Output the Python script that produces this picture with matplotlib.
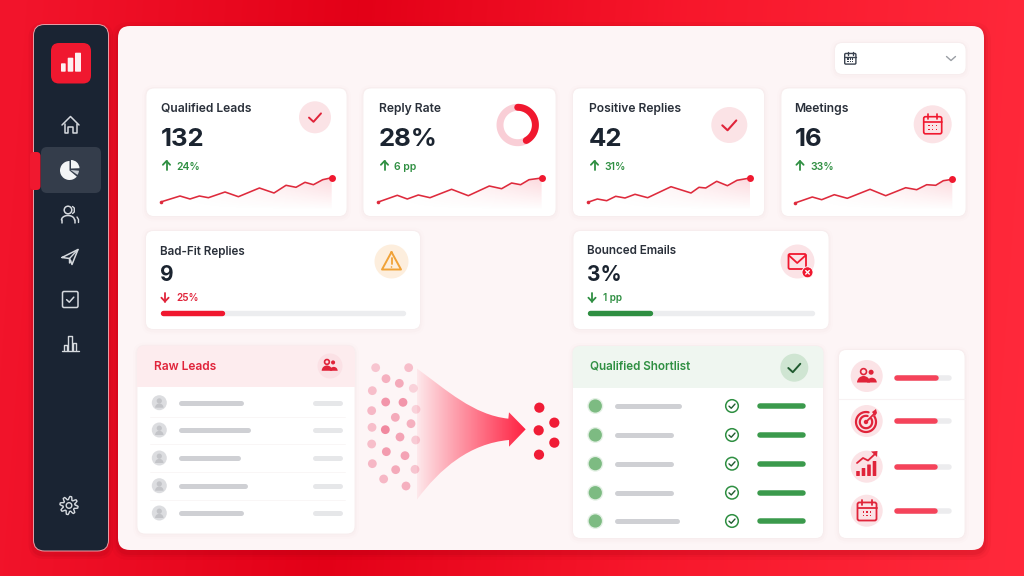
import numpy as np
import matplotlib
matplotlib.use("Agg")
import matplotlib.pyplot as plt
from matplotlib.patches import FancyBboxPatch, Circle, Wedge, Polygon, PathPatch, Rectangle
from matplotlib.path import Path

W, H = 1024, 576
plt.rcParams['font.family'] = ['Inter', 'DejaVu Sans']

# ---------- data ----------
kpi_titles = ["Qualified Leads", "Reply Rate", "Positive Replies", "Meetings"]
kpi_values = ["132", "28%", "42", "16"]
kpi_deltas = ["24%", "6 pp", "31%", "33%"]
spark_x = [
    [0, 19.3, 29.3, 38.7, 47.7, 64.3, 77.7, 98.7, 113.3, 125.3, 135.3, 144.3, 152.7, 162, 171],
    [0, 19, 29, 40, 51.7, 73.3, 90, 111, 123.3, 133.3, 142.3, 150.7, 163.3],
    [0, 9.7, 19, 28, 37.3, 47.3, 60, 83.3, 103.3, 111.3, 118, 129, 139.7, 149.3, 162.3],
    [0, 17.3, 26.7, 39.3, 52.3, 75, 90.7, 110.7, 121.7, 131.7, 140.7, 148.3, 157.3],
]
spark_y = [
    [8, 14, 11, 14, 12.3, 18, 13.3, 22, 17, 24.7, 22.7, 27.7, 25.3, 30.3, 32.3],
    [8, 14.7, 11, 15, 12.3, 20.7, 14.3, 24, 21.3, 27, 25.3, 30.3, 32],
    [7.7, 11, 9.3, 13.7, 12, 15.7, 12.3, 23.3, 17, 22.7, 22, 28.7, 24.3, 29.7, 32],
    [7, 13, 10.3, 15.3, 11.7, 20.7, 14.3, 22.3, 20.3, 25.3, 24.7, 29.3, 30.7],
]
reply_ring_share = 0.42
low_titles = ["Bad-Fit Replies", "Bounced Emails"]
low_values = ["9", "3%"]
low_deltas = ["25%", "1 pp"]
low_progress = [0.265, 0.29]
raw_title = "Raw Leads"
short_title = "Qualified Shortlist"
raw_name_len = [65, 72, 62, 69, 65]
short_name_len = [67, 59, 59, 58.5, 65]
side_progress = [0.77, 0.75, 0.75, 0.76]

# ---------- palette ----------
RED = "#f0182f"; DARK = "#1b2430"; GREEN = "#2f8f42"; SIDE = "#1a2433"
CARD_EDGE = "#f7eced"; PINK = "#fbe3e6"

fig = plt.figure(figsize=(W/100, H/100), dpi=100)
ax = fig.add_axes([0, 0, 1, 1])
ax.set_axis_off()

# ---------- background ----------
stops = [0.0, 0.33, 0.65, 1.0]
rr = [0.95, 0.89, 0.97, 1.00]
gg = [0.08, 0.00, 0.09, 0.16]
bb = [0.17, 0.09, 0.17, 0.23]
yy, xx = np.mgrid[0:H, 0:W]
u = xx/W + 0.04*(yy/H - 0.5)
bg = np.dstack([np.interp(u, stops, rr), np.interp(u, stops, gg), np.interp(u, stops, bb)])
ax.imshow(bg, extent=(0, W, H, 0), aspect='auto', zorder=0)
ax.set_xlim(0, W); ax.set_ylim(H, 0)


def rbox(x0, y0, x1, y1, r=8, fc="white", ec="none", lw=0, z=2, alpha=None):
    p = FancyBboxPatch((x0+r, y0+r), x1-x0-2*r, y1-y0-2*r,
                       boxstyle=f"round,pad={r},rounding_size={r}",
                       fc=fc, ec=ec, lw=lw, zorder=z, alpha=alpha)
    ax.add_patch(p)
    return p


def pill(x0, x1, y, t, col, z=4):
    ax.plot([x0+t/2, x1-t/2], [y, y], color=col, lw=t*0.72, solid_capstyle='round', zorder=z)


def card(x0, y0, x1, y1, r=8, z=2):
    for i, a in zip((4, 2), (0.006, 0.010)):
        rbox(x0-i, y0-i+1, x1+i, y1+i+1, r+i, fc="#a03040", alpha=a, z=z)
    return rbox(x0, y0, x1, y1, r, fc="white", ec=CARD_EDGE, lw=0.6, z=z)


def line(xs, ys, col, lw=1.2, z=6, cap='round'):
    ax.plot(xs, ys, color=col, lw=lw, solid_capstyle=cap, solid_joinstyle='round', zorder=z)


def check(cx, cy, s, col, lw=1.5, z=6):
    line([cx-s, cx-0.25*s, cx+s], [cy+0.05*s, cy+0.75*s, cy-0.65*s], col, lw, z)


def calendar(cx, cy, s, col, lw=1.1, z=6, fill="none"):
    rbox(cx-s, cy-s*0.9, cx+s, cy+s, s*0.2, fc=fill, ec=col, lw=lw, z=z)
    line([cx-s, cx+s], [cy-s*0.35, cy-s*0.35], col, lw, z)
    for dx in (-0.5, 0.5):
        line([cx+dx*s]*2, [cy-s*1.15, cy-s*0.65], col, lw, z)
    for i in (-0.4, 0, 0.4):
        for j in (0.1, 0.5):
            ax.add_patch(Rectangle((cx+i*s-0.7, cy+j*s-0.7), 1.4, 1.4, fc=col, ec='none', zorder=z))


def people(cx, cy, s, col, z=6):
    ax.add_patch(Circle((cx-0.3*s, cy-0.42*s), 0.28*s, fc="none", ec=col, lw=1.2, zorder=z))
    ax.add_patch(Circle((cx+0.42*s, cy-0.36*s), 0.24*s, fc=col, ec='none', zorder=z))
    ax.add_patch(Wedge((cx-0.3*s, cy+0.62*s), 0.62*s, 180, 360, fc=col, ec='none', zorder=z))
    ax.add_patch(Wedge((cx+0.5*s, cy+0.62*s), 0.46*s, 180, 360, fc=col, ec='none', zorder=z-0.1))


def arrow(cx, cy, up, col, s=4.5):
    d = -1 if up else 1
    line([cx, cx], [cy-d*s, cy+d*s], col, 1.3)
    line([cx-s*0.8, cx, cx+s*0.8], [cy+d*s*0.15, cy+d*s, cy+d*s*0.15], col, 1.3)


# ---------- main panel ----------
for i, a in zip((7, 4, 2), (0.05, 0.07, 0.10)):
    rbox(118-i, 26-i+3, 984+i, 550+i+3, 12+i, fc="#900010", alpha=a, z=0.8)
rbox(118, 26, 984, 550, 12, fc="#fdf5f6", z=1)

# ---------- sidebar ----------
for i, a in zip((5, 2.5), (0.07, 0.10)):
    rbox(33.5-i, 24.5-i+3, 108.5+i, 551+i+3, 11+i, fc="#800010", alpha=a, z=0.8)
rbox(33.5, 24.5, 108.5, 551, 11, fc=SIDE, ec="#eaa0a8", lw=0.7, z=2)
rbox(51, 43, 91, 83.5, 8, fc=RED, z=3)
for x0, x1, top in ((61, 65.7, 63.3), (67.7, 73.3, 57.7), (75, 81, 52.7)):
    rbox(x0, top, x1, 71.7, 0.8, fc="#fdeff0", z=4)
rbox(41, 147, 101, 193, 6, fc="#343d4b", z=3)
ax.add_patch(Wedge((33.8, 171), 19, -90, 90, fc=RED, ec='none', zorder=2.9, alpha=0))
rbox(30, 152, 40.5, 190, 4, fc=RED, z=3)
rbox(26, 150, 33.5, 192, 0.5, fc=RED, z=0.9, alpha=0)
ICON = "#d5d9de"
# home
line([62, 70.5, 79], [125, 116.5, 125], ICON, 1.1)
line([64.5, 64.5, 68, 68, 73, 73, 76.5, 76.5], [123.5, 133, 133, 127, 127, 133, 133, 123.5], ICON, 1.1)
# pie
ax.add_patch(Wedge((69.5, 170.5), 9.5, 40, 270, fc="#f3f5f6", ec='none', zorder=5))
ax.add_patch(Wedge((71, 168.5), 8.5, 270, 358, fc="#f3f5f6", ec='none', zorder=5))
ax.add_patch(Wedge((70.5, 170), 8.5, 5, 35, fc="#c8ced4", ec='none', zorder=5))
# users
ax.add_patch(Circle((68, 210), 3.8, fc='none', ec=ICON, lw=1.1, zorder=6))
th = np.linspace(np.pi, 2*np.pi, 30)
line(68+6.5*np.cos(th), 220+4.5*np.sin(th), ICON, 1.1)
line([61.5, 61.5], [220, 223], ICON, 1.1); line([74.5, 74.5], [220, 223], ICON, 1.1)
line([72.5, 74.3, 74.3, 72.5], [206.5, 208, 212, 213.5], ICON, 1.0)
line([77, 78.5, 78.5], [217, 219.5, 222.5], ICON, 1.0)
# plane
line([62, 78, 72, 69.5, 62], [257.5, 249.5, 264.5, 258.5, 257.5], ICON, 1.1)
line([69.5, 78], [258.5, 249.5], ICON, 1.0)
line([69.5, 69.5, 71], [258.5, 263, 261], ICON, 1.0)
# checkbox
rbox(62.5, 291.5, 78, 307.5, 1.5, fc='none', ec=ICON, lw=1.1, z=6)
check(70.2, 299.5, 3.6, ICON, 1.1)
# bar chart
line([62, 79], [350.5, 350.5], ICON, 1.0)
for xa, xb, t in ((63.5, 67, 345), (68, 72, 336), (72.5, 76, 343)):
    line([xa, xa, xb, xb], [350, t, t, 350], ICON, 1.0)
# gear
ang = np.linspace(0, 2*np.pi, 65)
rad = 7.5 + 1.6*np.tanh(4*np.sin(8*ang))
line(69+rad*np.cos(ang), 505.5+rad*np.sin(ang), ICON, 1.0)
ax.add_patch(Circle((69, 505.5), 2.8, fc='none', ec=ICON, lw=1.0, zorder=6))

# ---------- date dropdown ----------
card(834.5, 42.5, 966, 74.5, 8)
calendar(850.3, 58.5, 5.6, "#3b4350", 1.0)
line([946.5, 951, 955.5], [56.5, 60.5, 56.5], "#9a9ea4", 1.0)


# ---------- KPI cards ----------
def gradient_fill(a, xs, ys, base=0):
    n = 60
    gy, gx = np.mgrid[0:n, 0:n]/(n-1.0)
    rgba = np.zeros((n, n, 4))
    rgba[..., :3] = (0.95, 0.25, 0.33)
    rgba[..., 3] = 0.2*gx**1.5*(1-gy)
    im = a.imshow(rgba, extent=(min(xs), max(xs), base, max(ys)), origin='upper',
                  aspect='auto', zorder=1, interpolation='bilinear')
    poly = Polygon(list(zip(xs, ys))+[(xs[-1], base), (xs[0], base)], closed=True,
                   transform=a.transData, fc='none', ec='none')
    a.add_patch(poly)
    im.set_clip_path(poly)


boxes = [(146, 88, 347, 216.5), (363, 88, 556, 216.5), (572.5, 88, 764.5, 216.5), (781, 88, 966, 216.5)]
text_x = [161, 379, 589, 794.5]
spark_x0 = [160.7, 378.3, 587.7, 795]
for i in range(4):
    x0, y0, x1, y1 = boxes[i]
    card(x0, y0, x1, y1)
    tx = text_x[i]
    ax.text(tx, 109, kpi_titles[i], fontsize=8.7, fontweight=600, color="#2a303a", va='center', ha='left', zorder=7)
    ax.text(tx, 140, kpi_values[i], fontsize=18.5, fontweight=700, color=DARK, va='center', ha='left', zorder=7)
    arrow(tx+5.5, 165.5, True, GREEN)
    ax.text(tx+15.5, 166.5, kpi_deltas[i], fontsize=7.5, fontweight=600, color=GREEN, va='center', ha='left', zorder=7)
    sx0 = spark_x0[i]
    sa = fig.add_axes([sx0/W, 1-(210/H), 180/W, 40/H])
    sa.set_axis_off(); sa.patch.set_alpha(0)
    gradient_fill(sa, spark_x[i], spark_y[i])
    sa.plot(spark_x[i], spark_y[i], color="#de2a3c", lw=1.15, zorder=3, solid_joinstyle='round')
    sa.plot(spark_x[i][-1], spark_y[i][-1], 'o', color=RED, ms=5, mec='none', zorder=4, clip_on=False)
    sa.plot(spark_x[i][0], spark_y[i][0], 'o', color="#de2a3c", ms=2.6, mec='none', zorder=4, clip_on=False)
    sa.set_xlim(0, 180); sa.set_ylim(0, 40)

# KPI icons
ax.add_patch(Circle((315, 117.3), 16, fc=PINK, ec='none', zorder=5))
check(315, 117.3, 6, "#e0243a", 1.4)
ang = np.linspace(0, 2*np.pi, 90)
line(517.7+17.7*np.cos(ang), 125+17.7*np.sin(ang), "#f9ced6", 5.0, z=5)
ang = np.radians(-90) + np.linspace(0, 2*np.pi*reply_ring_share, 60)
line(517.7+17.7*np.cos(ang), 125+17.7*np.sin(ang), RED, 5.0, z=6)
ax.add_patch(Circle((729.3, 125), 18, fc=PINK, ec='none', zorder=5))
check(729.3, 125, 7, "#e0243a", 1.5)
ax.add_patch(Circle((932.7, 124.3), 19, fc=PINK, ec='none', zorder=5))
calendar(932.7, 124.8, 9, RED, 1.2)

# ---------- lower KPI cards ----------
low_boxes = [(145.5, 230.5, 420.5, 329.5), (573, 230.5, 829, 329.5)]
low_tx = [160, 587]
low_track = [(160, 406), (587, 815)]
low_cols = [RED, GREEN]
delta_cols = ["#e0243a", GREEN]
for i in range(2):
    x0, y0, x1, y1 = low_boxes[i]
    card(x0, y0, x1, y1)
    tx = low_tx[i]
    ax.text(tx, 251.5, low_titles[i], fontsize=8.4, fontweight=600, color="#2a303a", va='center', ha='left', zorder=7)
    ax.text(tx, 275, low_values[i], fontsize=15, fontweight=700, color=DARK, va='center', ha='left', zorder=7)
    arrow(tx+5, 297, False, delta_cols[i])
    ax.text(tx+16, 298, low_deltas[i], fontsize=7.2, fontweight=600, color=delta_cols[i], va='center', ha='left', zorder=7)
    ta, tb = low_track[i]
    pill(ta, tb, 313, 5.4, "#ecedef")
    pill(ta, ta+(tb-ta)*low_progress[i], 313, 5.4, low_cols[i], z=5)

# warning icon
ax.add_patch(Circle((391.5, 261.5), 17, fc="#fdeedd", ec='none', zorder=5))
line([391.5, 401, 382, 391.5], [252, 269.5, 269.5, 252], "#f0a238", 1.4)
line([391.5, 391.5], [257.5, 264], "#f0a238", 1.3)
ax.add_patch(Circle((391.5, 267), 0.8, fc="#f0a238", ec='none', zorder=6))
# bounced icon
ax.add_patch(Circle((797.5, 261.5), 17, fc=PINK, ec='none', zorder=5))
rbox(788.5, 254, 806, 269, 1.5, fc='none', ec=RED, lw=1.3, z=6)
line([789, 797.2, 805.5], [255.5, 263, 255.5], RED, 1.3)
ax.add_patch(Circle((807.5, 272.3), 5.5, fc=RED, ec='white', lw=0.6, zorder=7))
line([805.7, 809.3], [270.5, 274.1], "white", 1.0, z=8)
line([805.7, 809.3], [274.1, 270.5], "white", 1.0, z=8)

# ---------- raw leads ----------
card(137, 345.5, 355, 534)
rbox(137, 345.5, 355, 387, 8, fc="#fdecee", z=2.5)
ax.add_patch(Rectangle((137.3, 378), 217.4, 9, fc="#fdecee", ec='none', zorder=2.5))
ax.text(154, 366.5, raw_title, fontsize=8.6, fontweight=600, color="#e0243a", va='center', ha='left', zorder=7)
ax.add_patch(Circle((330, 366), 12.5, fc="#fbe1e5", ec='none', zorder=5))
people(329.5, 365.5, 8.5, "#e0243a")
raw_rows = [402.7, 430, 458, 485.7, 513]
for i, y in enumerate(raw_rows):
    ax.add_patch(Circle((159.3, y), 7.5, fc="#dcdde0", ec='none', zorder=4))
    ax.add_patch(Circle((159.3, y-1.8), 2.6, fc="#c3c4c8", ec='none', zorder=5))
    ax.add_patch(Wedge((159.3, y+5), 4.2, 180, 360, fc="#c3c4c8", ec='none', zorder=5))
    pill(178.5, 178.5+raw_name_len[i], y, 5, "#cfd0d4")
    pill(312, 342, y, 5, "#e6e7e9")
    if i < 4:
        line([150, 345], [y+14, y+14], "#f8f5f5", 0.6, z=3)

# dots of the funnel
dot_zx = [737, 836, 768, 808, 727, 850, 767, 819, 725, 858, 796, 843, 726, 766, 810, 857, 725, 769, 825, 727, 797, 855, 761, 828]
dot_zy = [83, 83, 116, 130, 152, 145, 186, 187, 212, 208, 232, 251, 262, 269, 291, 300, 312, 335, 347, 371, 389, 388, 417, 438]
dot_alpha = [.35, .4, .5, .55, .4, .25, .7, .7, .45, .25, .55, .5, .4, .8, .6, .3, .4, .65, .6, .45, .55, .35, .45, .5]
for zx, zy, al in zip(dot_zx, dot_zy, dot_alpha):
    ax.add_patch(Circle((130+zx/3, 340+zy/3), 4.4, fc="#ee6d8a", alpha=al, ec='none', zorder=3))


# funnel arrow
def Z(x, y):
    return (130+x/3, 340+y/3)


verts = [Z(860, 85), Z(950, 150), Z(1030, 225), Z(1135, 236), Z(1137, 217), Z(1187, 268), Z(1137, 320),
         Z(1137, 300), Z(1020, 310), Z(930, 385), Z(860, 480), Z(860, 85)]
codes = [Path.MOVETO, Path.CURVE4, Path.CURVE4, Path.CURVE4, Path.LINETO, Path.LINETO, Path.LINETO,
         Path.LINETO, Path.CURVE4, Path.CURVE4, Path.CURVE4, Path.CLOSEPOLY]
fpath = PathPatch(Path(verts, codes), fc='none', ec='none', zorder=3)
ax.add_patch(fpath)
grad = np.zeros((2, 256, 4))
grad[..., :3] = (1.0, 0.11, 0.24)
grad[..., 3] = np.linspace(0.05, 1, 256)**0.95
fx0, fy0 = Z(860, 80); fx1, fy1 = Z(1190, 485)
im = ax.imshow(grad, extent=(fx0, fx1, fy1, fy0), aspect='auto', zorder=3.2)
im.set_clip_path(fpath)
ax.set_xlim(0, W); ax.set_ylim(H, 0)

for zx, zy in zip([1228, 1273, 1226, 1273, 1227], [203, 248, 271, 308, 344]):
    ax.add_patch(Circle((130+zx/3, 340+zy/3), 5.1, fc="#f01c36", ec='none', zorder=4))

# ---------- qualified shortlist ----------
card(572.5, 346, 823.5, 538.5)
rbox(572.5, 346, 823.5, 388, 8, fc="#eff6f0", z=2.5)
ax.add_patch(Rectangle((572.8, 379), 250.4, 9, fc="#eff6f0", ec='none', zorder=2.5))
ax.text(590, 367, short_title, fontsize=8.4, fontweight=600, color=GREEN, va='center', ha='left', zorder=7)
ax.add_patch(Circle((794.3, 367.7), 14, fc="#cfe5d2", ec='none', zorder=5))
check(794.3, 367.7, 6, "#1f5a2f", 1.4)
short_rows = [406, 435, 463.7, 492.7, 521]
for i, y in enumerate(short_rows):
    ax.add_patch(Circle((595.3, y), 8, fc="#e3f0e4", ec='none', zorder=4))
    ax.add_patch(Circle((595.3, y), 6.6, fc="#7dbb82", ec='none', zorder=5))
    pill(614.7, 614.7+short_name_len[i], y, 5, "#cfd0d4")
    ax.add_patch(Circle((732, y), 6.3, fc='white', ec=GREEN, lw=1.1, zorder=5))
    check(732, y, 3, "#1f5a2f", 1.0)
    pill(757.7, 806, y, 5.5, "#3b9a4c")

# ---------- side score panel ----------
card(838.5, 349.5, 965, 538.5)
line([839, 964.5], [399.3, 399.3], "#f8f2f3", 0.8, z=3)
side_y = [376, 421, 466.7, 510.7]
for i, y in enumerate(side_y):
    ax.add_patch(Circle((866.7, y), 16, fc=PINK, ec='none', zorder=5))
    by = y + (1.5 if i == 0 else 0)
    pill(894.3, 951.7, by, 5.5, "#ececee")
    pill(894.3, 894.3+(951.7-894.3)*side_progress[i], by, 5.5, "#f5435a", z=5)
people(866.7, 376, 10.5, "#e0243a")
# target
for r, lw in ((10, 1.6), (6.2, 1.6)):
    t = np.radians(np.linspace(-35, 285, 60))
    line(866+r*np.cos(t), 422+r*np.sin(t), "#e0243a", lw)
ax.add_patch(Circle((866, 422), 2.2, fc="#e0243a", ec='none', zorder=6))
line([866, 875], [422, 413], "#e0243a", 1.3)
ax.add_patch(Polygon([(872, 412), (876, 409), (877, 413), (875, 416)], fc="#e0243a", ec='none', zorder=6))
# growth
for xa, ha in ((858, 5), (863.5, 8), (869, 11.5), (874.5, 15)):
    rbox(xa-1.8, 476-ha, xa+1.8, 476, 0.5, fc="#e0243a", z=6)
line([857, 863, 868, 875], [463, 458, 460.5, 454], "#e0243a", 1.3)
ax.add_patch(Polygon([(871, 451.5), (877.5, 451), (877, 457)], fc="#e0243a", ec='none', zorder=6))
# calendar
calendar(867, 511, 9.5, "#e0243a", 1.3)

fig.savefig("out.png", dpi=100)
